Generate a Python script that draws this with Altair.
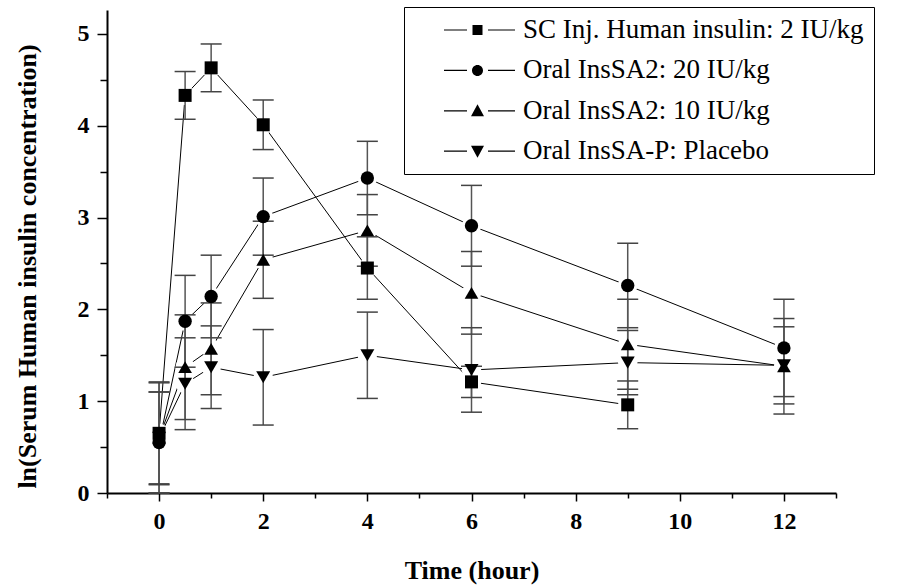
import altair as alt
import pandas as pd

series_names = [
    "SC Inj. Human insulin: 2 IU/kg",
    "Oral InsSA2: 20 IU/kg",
    "Oral InsSA2: 10 IU/kg",
    "Oral InsSA-P: Placebo",
]

# time points (hour)
time_sc = [0, 0.5, 1, 2, 4, 6, 9]
time_all = [0, 0.5, 1, 2, 4, 6, 9, 12]

# ln(serum human insulin concentration): mean and error (half-length)
mean_sc = [0.65, 4.33, 4.63, 4.01, 2.45, 1.21, 0.96]
err_sc = [0.56, 0.26, 0.26, 0.27, 0.34, 0.17, 0.26]

mean_o20 = [0.55, 1.87, 2.14, 3.01, 3.43, 2.91, 2.26, 1.58]
err_o20 = [0.55, 0.50, 0.45, 0.42, 0.40, 0.44, 0.46, 0.53]

mean_o10 = [0.60, 1.37, 1.57, 2.54, 2.86, 2.18, 1.62, 1.38]
err_o10 = [0.60, 0.57, 0.50, 0.42, 0.39, 0.45, 0.49, 0.52]

mean_pl = [0.60, 1.19, 1.37, 1.26, 1.50, 1.34, 1.42, 1.39]
err_pl = [0.50, 0.50, 0.45, 0.52, 0.47, 0.46, 0.35, 0.42]

x_tick_values = list(range(-1, 14))
y_tick_values = [0, 0.5, 1, 1.5, 2, 2.5, 3, 3.5, 4, 4.5, 5]

rows = []
for name, ts, ms, es in [
    (series_names[0], time_sc, mean_sc, err_sc),
    (series_names[1], time_all, mean_o20, err_o20),
    (series_names[2], time_all, mean_o10, err_o10),
    (series_names[3], time_all, mean_pl, err_pl),
]:
    for t, m, e in zip(ts, ms, es):
        rows.append({"series": name, "time": t, "mean": m, "lo": m - e, "hi": m + e})
df = pd.DataFrame(rows)

FONT = "Liberation Serif"

x_enc = alt.X(
    "time:Q",
    scale=alt.Scale(domain=[-1, 13], nice=False, zero=False),
    axis=alt.Axis(
        values=x_tick_values,
        labelExpr="datum.value % 2 == 0 ? '' + datum.value : ''",
        tickSize={"condition": {"test": "datum.value % 2 == 0", "value": 8}, "value": 5},
        title="Time (hour)",
        titleY=77,
        titleBaseline="middle",
        titleFontSize=26,
        labelPadding=8,
        grid=False,
    ),
)
y_scale = alt.Scale(domain=[0, 5.26], nice=False, zero=False)
y_axis = alt.Axis(
    values=y_tick_values,
    labelExpr="datum.value % 1 == 0 ? '' + datum.value : ''",
    tickSize={"condition": {"test": "datum.value % 1 == 0", "value": 10}, "value": 7},
    title="ln(Serum Human insulin concentration)",
    titleX=-80,
    titleY=256,
    titleAngle=270,
    titleAlign="center",
    titleBaseline="middle",
    titleFontSize=26,
    labelPadding=8,
    grid=False,
)

base = alt.Chart(df)

lines = base.mark_line(color="black", strokeWidth=1).encode(
    x=x_enc,
    y=alt.Y("mean:Q", scale=y_scale, axis=y_axis),
    detail="series:N",
    order="time:Q",
)

halos = base.mark_point(filled=True, color="white", shape="circle", size=380, opacity=1).encode(
    x="time:Q", y="mean:Q"
)

bars = base.mark_rule(color="#555555", strokeWidth=1.5).encode(
    x="time:Q", y="lo:Q", y2="hi:Q"
)
caps_lo = base.mark_tick(orient="horizontal", size=21, thickness=1.5, color="#444444", opacity=1).encode(
    x="time:Q", y="lo:Q"
)
caps_hi = base.mark_tick(orient="horizontal", size=21, thickness=1.5, color="#444444", opacity=1).encode(
    x="time:Q", y="hi:Q"
)

points = base.mark_point(filled=True, color="black", opacity=1).encode(
    x="time:Q",
    y="mean:Q",
    shape=alt.Shape(
        "series:N",
        scale=alt.Scale(domain=series_names, range=["square", "circle", "triangle-up", "triangle-down"]),
        legend=None,
    ),
    size=alt.Size(
        "series:N",
        scale=alt.Scale(domain=series_names, range=[169, 196, 324, 324]),
        legend=None,
    ),
)

# legend glyph: line - marker - line, all as filled geometry (1 unit = 10 px)
seg = "M1.7,-0.06H4.0V0.06H1.7ZM6.1,-0.06H8.8V0.06H6.1Z"
legend_paths = [
    seg + "M4.55,-0.5H5.55V0.5H4.55Z",
    seg + "M5.6,0A0.55,0.55,0,1,1,4.5,0A0.55,0.55,0,1,1,5.6,0Z",
    seg + "M5.05,-0.65L5.7,0.55L4.4,0.55Z",
    seg + "M5.05,0.65L5.7,-0.55L4.4,-0.55Z",
]

legend_layer = base.transform_filter("false").mark_point(
    filled=True, fill="black", size=400, opacity=1
).encode(
    x="time:Q",
    y="mean:Q",
    shape=alt.Shape(
        "series:N",
        scale=alt.Scale(domain=series_names, range=legend_paths),
        legend=alt.Legend(
            title=None,
            orient="none",
            legendX=297,
            legendY=-3,
            strokeColor="black",
            fillColor="white",
            padding=9.5,
            rowPadding=12.4,
            labelFont=FONT,
            labelFontSize=27,
            labelColor="black",
            labelOffset=82.5,
            labelLimit=700,
            symbolSize=400,
            symbolFillColor="black",
            symbolOpacity=1,
        ),
    ),
)

chart = (
    alt.layer(lines, halos, bars, caps_lo, caps_hi, points, legend_layer)
    .resolve_scale(shape="independent", size="independent")
    .properties(
        width=729,
        height=483,
        autosize=alt.AutoSizeParams(type="none"),
        padding={"left": 107, "top": 10, "right": 64, "bottom": 93},
        background="white",
    )
    .configure_view(stroke="transparent")
    .configure_axis(
        labelFont=FONT,
        labelFontWeight="bold",
        labelFontSize=24,
        labelColor="black",
        titleFont=FONT,
        titleFontWeight="bold",
        titleFontSize=24,
        titleColor="black",
        domainColor="black",
        domainWidth=2,
        tickColor="black",
        tickWidth=1.5,
    )
)

chart.save("out.html", embed_options={"renderer": "svg", "actions": False})
